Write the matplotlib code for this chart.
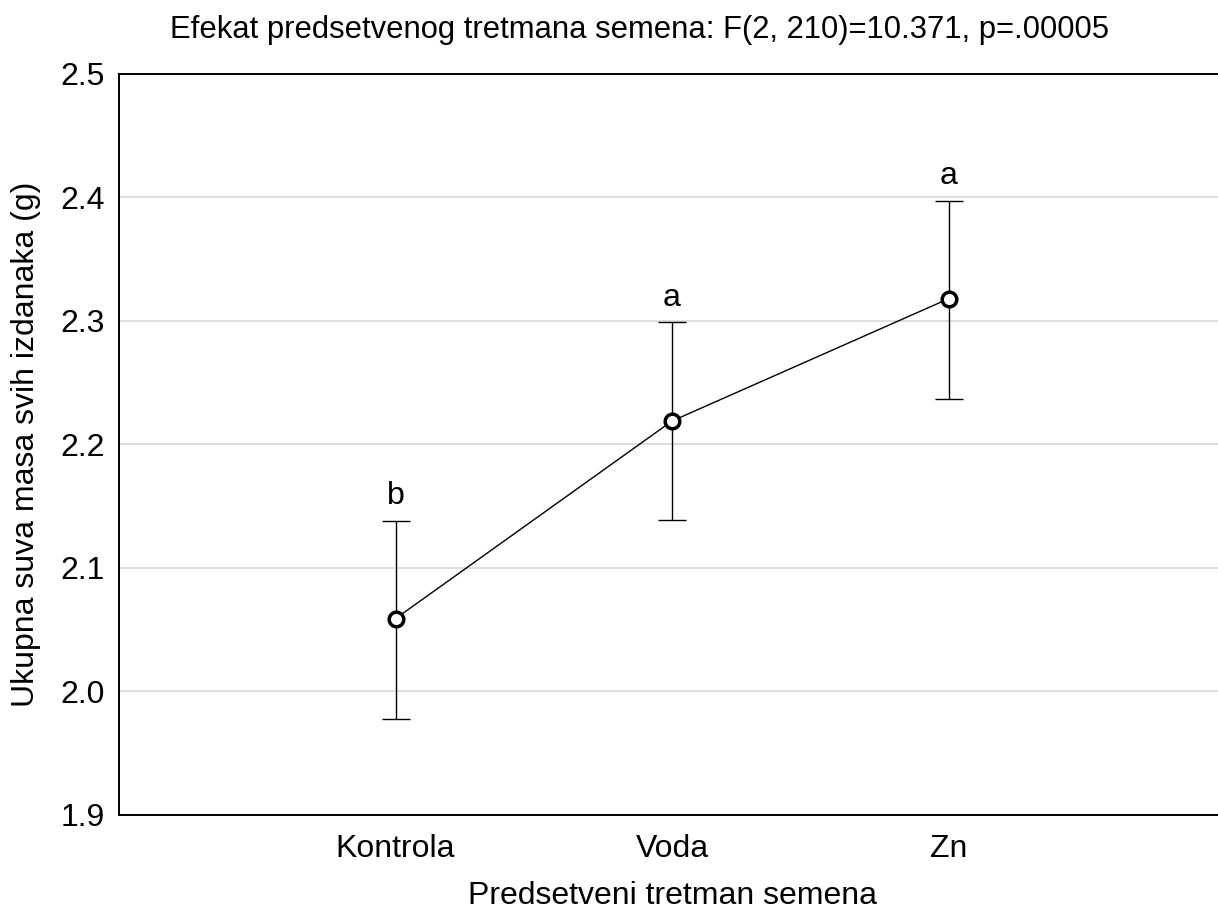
import numpy as np
import matplotlib.pyplot as plt

plt.rcParams['font.family'] = ['Liberation Sans', 'DejaVu Sans']

groups = ["Kontrola", "Voda", "Zn"]
means = [2.059, 2.219, 2.318]
upper = [2.138, 2.299, 2.397]
lower = [1.978, 2.139, 2.237]
letters = ["b", "a", "a"]

x = np.arange(1, len(groups) + 1)
means = np.array(means)
err = [means - np.array(lower), np.array(upper) - means]

fig = plt.figure(figsize=(12.18, 9.11), dpi=100)
ax = fig.add_axes([119/1218, 1 - 815/911, (1225 - 119)/1218, (815 - 74)/911])

ax.errorbar(x, means, yerr=err, fmt='none', ecolor='black', elinewidth=1.0,
            capsize=10, capthick=1.0, zorder=3)
ax.plot(x, means, color='black', linewidth=1.0, marker='o', markersize=10.5,
        markerfacecolor='white', markeredgecolor='black', markeredgewidth=2.5, zorder=4)

for xi, up, lab in zip(x, upper, letters):
    ax.annotate(lab, (xi, up), xytext=(0, 7), textcoords='offset points',
                ha='center', va='bottom', fontsize=23)

ax.set_xlim(0, 4)
ax.set_ylim(1.9, 2.5)
ax.set_xticks(x)
ax.set_xticklabels(groups)
ax.set_yticks([1.9, 2.0, 2.1, 2.2, 2.3, 2.4, 2.5])
ax.set_yticklabels(["1.9", "2.0", "2.1", "2.2", "2.3", "2.4", "2.5"])
ax.tick_params(length=0, labelsize=23)
ax.tick_params(axis='x', pad=14)
ax.tick_params(axis='y', pad=10)
ax.yaxis.grid(True, color='#d8d8d8', linewidth=1.2)
ax.set_axisbelow(True)
for s in ['left', 'top', 'bottom']:
    ax.spines[s].set_linewidth(1.4)
ax.spines['right'].set_visible(False)

ax.set_xlabel("Predsetveni tretman semena", fontsize=23, labelpad=12)
ax.set_ylabel("Ukupna suva masa svih izdanaka (g)", fontsize=23, labelpad=14)
fig.text(640/1218, 1 - 30/911, "Efekat predsetvenog tretmana semena: F(2, 210)=10.371, p=.00005",
         ha='center', va='center', fontsize=22.3)

fig.savefig("out.png", dpi=100)
